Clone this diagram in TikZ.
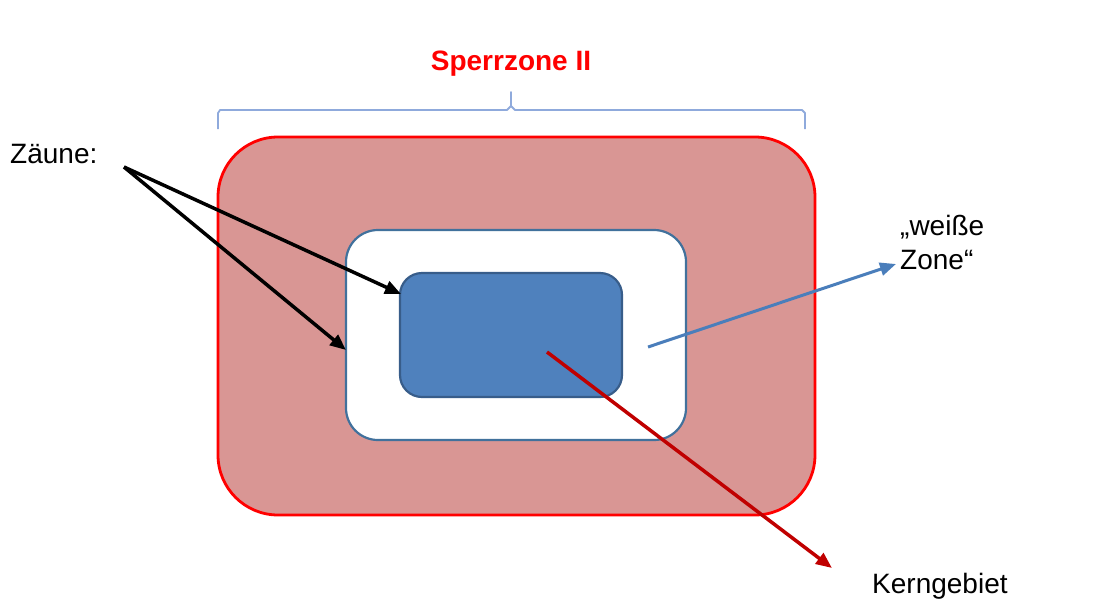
\documentclass[tikz,border=0pt]{standalone}
\usepackage{fontspec}
\setmainfont{Liberation Sans}
\usetikzlibrary{arrows.meta}
\definecolor{zoneRed}{HTML}{FF0000}
\definecolor{zoneFill}{HTML}{D99694}
\definecolor{whiteEdge}{HTML}{41719C}
\definecolor{coreFill}{HTML}{4F81BD}
\definecolor{coreEdge}{HTML}{385D8A}
\definecolor{braceBlue}{HTML}{8FAADC}
\definecolor{arrowBlue}{HTML}{4A7EBB}
\definecolor{arrowRed}{HTML}{C00000}
\tikzset{
  lbl/.style={font=\fontsize{28}{34}\selectfont, text=black, inner sep=0pt},
  ptr/.style={line width=3.5pt, -{Triangle[length=16pt,width=13pt]}},
}
\begin{document}
\begin{tikzpicture}[x=1pt,y=-1pt]
\useasboundingbox (0,0) rectangle (1117,598);
% outer zone
\draw[zoneRed, fill=zoneFill, line width=2.8pt, rounded corners=60pt] (218,137) rectangle (815,515);
% white zone
\draw[whiteEdge, fill=white, line width=2.2pt, rounded corners=32pt] (346,230) rectangle (686,440);
% core
\draw[coreEdge, fill=coreFill, line width=2.2pt, rounded corners=22pt] (400,273) rectangle (622,397);
\coordinate (whiteL) at (346,350);
\coordinate (coreTL) at (401,294);
\coordinate (whiteIn) at (648,347);
\coordinate (coreIn) at (547,352);
% brace
\draw[braceBlue, line width=1.8pt, line join=round] (218,129) -- (218,113) -- (220,110) -- (507,110) -- (511,106) -- (511,92) -- (511,106) -- (515,110) -- (802,110) -- (805,113) -- (805,129);
% title
\node[lbl, text=zoneRed, font=\fontsize{28}{34}\selectfont\bfseries, anchor=base] (title) at (511,70) {Sperrzone II};
% labels
\node[lbl, anchor=base west] (zaeune) at (10,163) {Zäune:};
\coordinate (zsrc) at (124,167);
\node[lbl, anchor=base west, align=left] (weiss) at (900,269) {„weiße\\Zone“};
\coordinate (wtip) at (896,264);
\node[lbl, anchor=base west] (kern) at (872,593) {Kerngebiet};
\coordinate (ktip) at (832,568);
% arrows
\draw[ptr] (zsrc) -- (coreTL);
\draw[ptr] (zsrc) -- (whiteL);
\draw[ptr, arrowBlue, line width=3pt] (whiteIn) -- (wtip);
\draw[ptr, arrowRed] (coreIn) -- (ktip);
\end{tikzpicture}
\end{document}
